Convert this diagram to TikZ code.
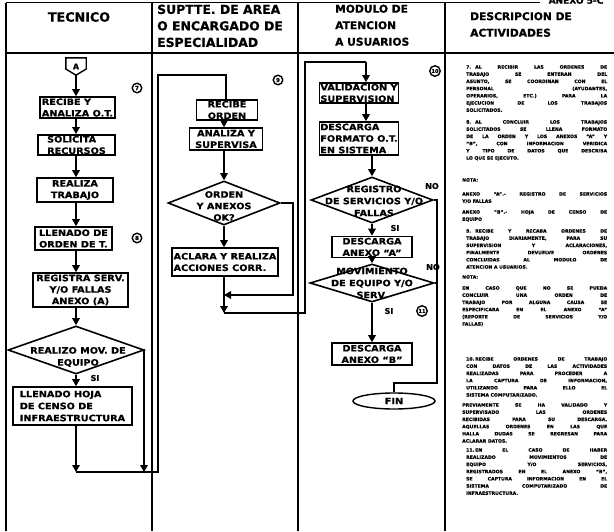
\documentclass[tikz,border=0pt]{standalone}
\usepackage{fontspec}
\setmainfont{DejaVu Sans}[FakeBold=0.8]
\newfontfamily\boxfont{DejaVu Sans}[FakeStretch=1.1,FakeBold=0.8]
\usetikzlibrary{arrows.meta,shapes.geometric}
\tolerance=10000
\hbadness=10000

\begin{document}
\begin{tikzpicture}[x=1pt,y=-1pt,
  rule/.style={line width=1.6pt},
  flow/.style={line width=1.5pt},
  arr/.style={flow,-{Triangle[width=7.5pt,length=7pt]}},
  box/.style={draw,line width=1.6pt,inner sep=1pt,align=center,
    font=\boxfont\bfseries\fontsize{8.8}{11.5}\selectfont},
  lbox/.style={box,align=left},
  dia/.style={draw,diamond,line width=1.6pt,inner sep=0pt},
  dtext/.style={inner sep=0pt,align=center,
    font=\boxfont\bfseries\fontsize{8.8}{12}\selectfont},
  tag/.style={inner sep=0pt,font=\bfseries\fontsize{8}{8}\selectfont},
  num/.style={circle,draw,line width=1.4pt,inner sep=0pt,minimum size=9.5pt,
    font=\bfseries\fontsize{5.5}{5.5}\selectfont},
  head/.style={anchor=north west,inner sep=0pt,align=left},
  desc/.style={anchor=north west,inner sep=0pt,text width=141pt,align=justify,
    font=\bfseries\fontsize{4.6}{7.2}\selectfont},
  note/.style={desc,text width=145pt},
]
\useasboundingbox (0,0) rectangle (614,531);
\fill[white] (0,0) rectangle (614,531);

% ---------- table frame ----------
\draw[rule] (6,2.5) -- (540,2.5);
\draw[rule] (6,53) -- (614,53);
\draw[rule] (6,2.5) -- (6,531);
\draw[rule] (152,2.5) -- (152,531);
\draw[rule] (298,2.5) -- (298,531);
\draw[rule] (445,2.5) -- (445,531);

\node[anchor=south,inner sep=0pt,font=\bfseries\fontsize{9}{9}\selectfont] (anx) at (576,4) {ANEXO 5-C};

% ---------- column heads ----------
\node[inner sep=0pt,font=\bfseries\fontsize{12.7}{14}\selectfont] (hT) at (79,17) {TECNICO};
\node[head,font=\bfseries\fontsize{12.4}{16.5}\selectfont] (hS) at (157,4.5)
  {SUPTTE. DE AREA\\O ENCARGADO DE\\ESPECIALIDAD};
\node[head,font=\bfseries\fontsize{10.7}{16.5}\selectfont] (hM) at (335,4.5)
  {MODULO DE\\ATENCION\\A USUARIOS};
\node[head,font=\bfseries\fontsize{10.7}{16.5}\selectfont] (hD) at (470,12)
  {DESCRIPCION DE\\ACTIVIDADES};

% ---------- TECNICO ----------
\node[inner sep=0pt,minimum width=20pt,minimum height=17pt,
  font=\bfseries\fontsize{8}{8}\selectfont] (A) at (76,66.5) {A};
\draw[line width=1.4pt] (A.north west) -- (A.north east) -- ([yshift=-2.5pt]A.east)
  -- (A.south) -- ([yshift=-2.5pt]A.west) -- cycle;

\node[lbox,minimum width=75pt,minimum height=21pt] (b1) at (77.5,107.5) {RECIBE Y\\ANALIZA O.T.};
\node[lbox,minimum width=77pt,minimum height=20pt] (b2) at (76.5,145) {SOLICITA\\RECURSOS};
\node[box,minimum width=76pt,minimum height=24pt] (b3) at (75,190) {REALIZA\\TRABAJO};
\node[lbox,minimum width=77pt,minimum height=23pt] (b4) at (73.5,238.5) {LLENADO DE\\ORDEN DE T.};
\node[box,minimum width=95pt,minimum height=34pt] (b5) at (80.5,290) {REGISTRA SERV.\\Y/O FALLAS\\ANEXO (A)};
\node[dia,minimum width=136pt,minimum height=48pt] (d1) at (76,350) {};
\node[dtext] (d1t) at (78,357) {REALIZO MOV. DE\\EQUIPO};
\node[lbox,minimum width=119pt,minimum height=38pt,
  font=\boxfont\bfseries\fontsize{8.8}{12}\selectfont] (b6) at (72.5,406)
  {LLENADO HOJA\\DE CENSO DE\\INFRAESTRUCTURA};

\node[num] (n7) at (137,88) {7};
\node[num] (n8) at (137,238) {8};
\node[tag] (si0) at (95,378) {SI};

\draw[arr] (A.south) -- (A.south |- b1.north);
\draw[arr] (b1.south -| A) -- (b2.north -| A);
\draw[arr] (b2.south -| A) -- (b3.north -| A);
\draw[arr] (b3.south -| A) -- (b4.north -| A);
\draw[arr] (b4.south -| A) -- (b5.north -| A);
\draw[arr] (b5.south -| A) -- (d1.north);
\draw[arr] (d1.south) -- (b6.north -| A);

% ---------- SUPTTE. DE AREA ----------
\node[box,minimum width=61pt,minimum height=20pt] (c1) at (227,110) {RECIBE\\ORDEN};
\node[box,minimum width=73pt,minimum height=22pt] (c2) at (226,139) {ANALIZA Y\\SUPERVISA};
\node[dia,minimum width=112pt,minimum height=44pt] (d2) at (224,203) {};
\node[dtext,font=\boxfont\bfseries\fontsize{8.8}{11.5}\selectfont] (d2t) at (224,206) {ORDEN\\Y ANEXOS\\OK?};
\node[lbox,minimum width=106pt,minimum height=28pt] (c3) at (225,262) {ACLARA Y REALIZA\\ACCIONES CORR.};
\node[num] (n9) at (278,80) {9};

% return from the TECNICO lane
\coordinate (t1) at (76,472);
\coordinate (t2) at (144,472);
\coordinate (t3) at (158,472);
\coordinate (t4) at (158,75);
\coordinate (t5) at (226,75);
\draw[arr] (b6.south -| A) -- (t1);
\draw[arr] (d1.east) -| (t2);
\draw[flow] (t1) -- (t3) -- (t4) -- (t5) -- (t5 |- c1.north);

\draw[arr] (c1.south -| d2) -- (c2.north -| d2);
\draw[arr] (c2.south -| d2) -- (d2.north);
\draw[arr] (d2.south) -- (c3.north -| d2);

\coordinate (u1) at (293,203);
\coordinate (u2) at (293,295);
\coordinate (u3) at (224,295);
\coordinate (u4) at (224,313);
\coordinate (u5) at (305,313);
\coordinate (u6) at (305,62);
\coordinate (u7) at (366,62);
\draw[arr] (d2.east) -- (u1) -- (u2) -- (u3);
\draw[arr] (c3.south -| d2) -- (u4);
\draw[flow] (u4) -- (u5) -- (u6) -- (u7);

% ---------- MODULO DE ATENCION ----------
\node[lbox,minimum width=78pt,minimum height=20pt] (m1) at (359,93) {VALIDACION Y\\SUPERVISION};
\node[lbox,minimum width=77pt,minimum height=33pt] (m2) at (359,138.5) {DESCARGA\\FORMATO O.T.\\EN SISTEMA};
\node[dia,minimum width=122pt,minimum height=46pt] (d3) at (372,200) {};
\node[dtext] (d3t) at (374,201) {REGISTRO\\DE SERVICIOS Y/O\\FALLAS};
\node[box,minimum width=80pt,minimum height=21pt] (m3) at (372,247) {DESCARGA\\ANEXO “A”};
\node[dia,minimum width=124pt,minimum height=38pt] (d4) at (372,283) {};
\node[dtext] (d4t) at (372,283) {MOVIMIENTO\\DE EQUIPO Y/O\\SERV.};
\node[box,minimum width=80pt,minimum height=22pt] (m4) at (372,354) {DESCARGA\\ANEXO “B”};
\node[draw,ellipse,line width=1.4pt,minimum width=82pt,minimum height=16pt,inner sep=0pt,
  font=\boxfont\bfseries\fontsize{8.8}{10}\selectfont] (fin) at (394,401) {FIN};

\node[num,minimum size=10.5pt,font=\bfseries\fontsize{5}{5}\selectfont] (n10) at (435,71) {10};
\node[num,minimum size=10.5pt,font=\bfseries\fontsize{5}{5}\selectfont] (n11) at (422,311) {11};
\node[tag] (no1) at (432,186) {NO};
\node[tag] (si1) at (395,228) {SI};
\node[tag] (no2) at (433,267) {NO};
\node[tag] (si2) at (389,311) {SI};

\draw[arr] (u7) -- (u7 |- m1.north);
\draw[arr] (m1.south -| u7) -- (m2.north -| u7);
\draw[arr] (m2.south -| d3) -- (d3.north);
\draw[arr] (d3.south) -- (m3.north);
\draw[arr] (m3.south) -- (d4.north);
\draw[arr] (d4.south) -- (m4.north);

\coordinate (v1) at (437,200);
\coordinate (v2) at (437,383);
\coordinate (v3) at (394,383);
\draw[flow] (d3.east) -- (v1) -- (v2) -- (v3) -- (fin.north);
\draw[flow] (d4.east) -- (d4.east -| v1);

% ---------- DESCRIPCION DE ACTIVIDADES ----------
\node[desc] (p7) at (466,65) {\hangindent=9pt\hangafter=1\noindent\makebox[9pt][l]{7.}AL RECIBIR LAS ORDENES DE\linebreak
 TRABAJO SE ENTERAN DEL\linebreak ASUNTO, SE COORDINAN CON EL\linebreak PERSONAL (AYUDANTES,\linebreak
 OPERARIOS, ETC.) PARA LA\linebreak EJECUCION DE LOS TRABAJOS\linebreak SOLICITADOS.};
\node[desc] (p8) at (466,120) {\hangindent=9pt\hangafter=1\noindent\makebox[9pt][l]{8.}AL CONCLUIR LOS TRABAJOS\linebreak
 SOLICITADOS SE LLENA FORMATO\linebreak DE LA ORDEN Y LOS ANEXOS “A” Y\linebreak “B”, CON INFORMACION VERIDICA\linebreak
 Y TIPO DE DATOS QUE DESCRIBA\linebreak LO QUE SE EJECUTO.};
\node[note] (q1) at (462,178) {NOTA:};
\node[note] (qa) at (462,192) {\hangindent=11pt\hangafter=1\noindent ANEXO “A”.- REGISTRO DE SERVICIOS\linebreak Y/O FALLAS};
\node[note] (qb) at (462,210) {\hangindent=11pt\hangafter=1\noindent ANEXO “B”.- HOJA DE CENSO DE\linebreak EQUIPO};
\node[desc] (p9) at (466,229) {\hangindent=9pt\hangafter=1\noindent\makebox[9pt][l]{9.}RECIBE Y RECABA ORDENES DE\linebreak
 TRABAJO DIARIAMENTE, PARA SU\linebreak SUPERVISION Y ACLARACIONES,\linebreak FINALMENTE DEVUELVE ORDENES\linebreak
 CONCLUIDAS AL MODULO DE\linebreak ATENCION A USUARIOS.};
\node[note] (q2) at (462,275) {NOTA:};
\node[note] (qc) at (462,286) {\hangindent=11pt\hangafter=1\noindent EN CASO QUE NO SE PUEDA\linebreak
 CONCLUIR UNA ORDEN DE\linebreak TRABAJO POR ALGUNA CAUSA SE\linebreak ESPECIFICARA EN EL ANEXO “A”\linebreak
 (REPORTE DE SERVICIOS Y/O\linebreak FALLAS)};
\node[desc] (p10) at (466,357) {\hangindent=9pt\hangafter=1\noindent\makebox[9pt][l]{10.}RECIBE ORDENES DE TRABAJO\linebreak
 CON DATOS DE LAS ACTIVIDADES\linebreak REALIZADAS PARA PROCEDER A\linebreak LA CAPTURA DE INFORMACION,\linebreak
 UTILIZANDO PARA ELLO EL\linebreak SISTEMA COMPUTARIZADO.};
\node[note] (qd) at (462,403) {\hangindent=11pt\hangafter=1\noindent PREVIAMENTE SE HA VALIDADO Y\linebreak
 SUPERVISADO LAS ORDENES\linebreak RECIBIDAS PARA SU DESCARGA.\linebreak AQUELLAS ORDENES EN LAS QUE\linebreak
 HALLA DUDAS SE REGRESAN PARA\linebreak ACLARAR DATOS.};
\node[desc] (p11) at (466,448) {\hangindent=9pt\hangafter=1\noindent\makebox[9pt][l]{11.}EN EL CASO DE HABER\linebreak
 REALIZADO MOVIMIENTOS DE\linebreak EQUIPO Y/O SERVICIOS,\linebreak REGISTRADOS EN EL ANEXO “B”,\linebreak
 SE CAPTURA INFORMACION EN EL\linebreak SISTEMA COMPUTARIZADO DE\linebreak INFRAESTRUCTURA.};
\end{tikzpicture}
\end{document}
